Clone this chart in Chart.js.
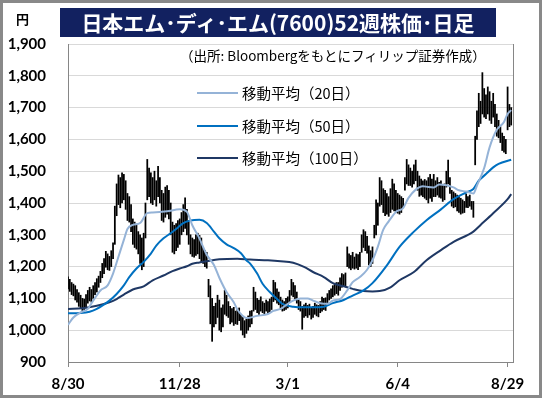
<!DOCTYPE html>
<html><head><meta charset="utf-8">
<script src="https://cdn.jsdelivr.net/npm/chart.js@4.4.1/dist/chart.umd.min.js"></script>
<style>
html,body{margin:0;padding:0;background:#fff;}
#wrap{position:relative;width:542px;height:398px;overflow:hidden;background:#fff;}
#c{position:absolute;left:0;top:0;}
#frame{position:absolute;left:0;top:0;width:542px;height:398px;box-sizing:border-box;border:3px solid #898989;pointer-events:none;}
.t{position:absolute;white-space:nowrap;font-family:"Noto Sans CJK JP",sans-serif;color:#000;}
#title{left:60px;top:8px;width:436px;height:29px;background:#122160;color:#fff;font-weight:700;font-size:21px;line-height:29px;text-align:center;}
#yen{left:16px;top:9px;font-size:13px;font-weight:700;line-height:20px;}
#src{left:180px;top:45px;font-size:13.5px;line-height:20px;}
.lg{position:absolute;left:197px;width:41px;height:2px;}
.lt{left:242px;font-size:14.5px;line-height:20px;}
</style>
</head>
<body>
<div id="wrap">
<canvas id="c" width="542" height="398"></canvas>
<div class="t" id="yen">円</div>
<div class="t" id="title">日本エム･ディ･エム(7600)52週株価･日足</div>
<div class="t" id="src">（出所: Bloombergをもとにフィリップ証券作成）</div>
<div class="lg" style="top:92px;background:#95B3D7"></div>
<div class="t lt" style="top:83px">移動平均（20日）</div>
<div class="lg" style="top:125px;background:#0070C0"></div>
<div class="t lt" style="top:116px">移動平均（50日）</div>
<div class="lg" style="top:157px;background:#1F3864"></div>
<div class="t lt" style="top:148px">移動平均（100日）</div>
<div id="frame"></div>
</div>
<script>
const tickDays = [0, 62, 122, 183, 244];
const tickLabels = ['8/30', '11/28', '3/1', '6/4', '8/29'];

const dayHigh = [
1168,1160,1150,1145,1140,1128,1118,1110,1100,1098,
1112,1125,1135,1128,1140,1150,1162,1170,1185,1210,
1225,1248,1240,1232,1250,1275,1390,1460,1488,1480,
1495,1490,1470,1430,1420,1395,1350,1340,1330,1310,
1300,1290,1305,1400,1537,1510,1495,1480,1500,1470,
1515,1480,1440,1430,1450,1455,1440,1400,1340,1330,
1335,1345,1350,1370,1395,1416,1380,1340,1300,1290,
1285,1300,1305,1298,1290,1260,1250,1245,1160,1140,
1100,1075,1085,1110,1095,1070,1080,1126,1110,1090,
1075,1068,1072,1060,1065,1070,1050,1040,1030,1035,
1045,1060,1062,1135,1120,1100,1095,1105,1090,1085,
1095,1090,1098,1104,1157,1150,1130,1120,1104,1095,
1090,1100,1105,1125,1160,1150,1140,1120,1095,1090,
1075,1080,1085,1078,1082,1070,1075,1085,1080,1078,
1090,1104,1100,1102,1115,1125,1130,1140,1145,1150,
1150,1165,1178,1175,1180,1262,1240,1235,1245,1230,
1240,1238,1245,1300,1316,1310,1295,1265,1250,1262,
1330,1410,1400,1480,1470,1445,1440,1430,1420,1445,
1475,1460,1440,1430,1425,1420,1415,1480,1537,1520,
1510,1500,1520,1535,1500,1485,1475,1470,1474,1470,
1480,1490,1475,1490,1470,1480,1465,1470,1455,1460,
1500,1535,1480,1440,1435,1430,1425,1420,1415,1410,
1405,1428,1420,1425,1405,1405,1610,1690,1745,1720,
1810,1760,1740,1765,1750,1720,1745,1710,1680,1660,
1640,1620,1610,1600,1765,1710,1700];

const dayLow = [
1130,1122,1112,1108,1095,1088,1075,1068,1060,1065,
1070,1085,1092,1088,1100,1112,1120,1135,1150,1165,
1178,1198,1190,1188,1200,1225,1270,1360,1395,1385,
1400,1410,1380,1345,1340,1310,1270,1260,1255,1240,
1210,1190,1200,1290,1410,1420,1400,1395,1410,1390,
1420,1400,1345,1340,1355,1365,1350,1300,1245,1240,
1250,1260,1270,1300,1310,1320,1300,1270,1240,1232,
1230,1235,1240,1225,1215,1210,1200,1195,1105,1020,
965,1010,1020,1040,1000,995,1010,1050,1045,1040,
1020,1025,1015,1020,1018,1030,1000,985,977,990,
1000,1010,1020,1060,1065,1055,1050,1060,1055,1050,
1060,1052,1058,1065,1090,1095,1085,1080,1065,1060,
1062,1065,1070,1090,1110,1105,1095,1085,1065,1060,
1003,1040,1045,1040,1048,1035,1040,1050,1045,1042,
1055,1060,1065,1062,1085,1095,1100,1105,1110,1115,
1110,1125,1135,1138,1140,1200,1195,1190,1195,1192,
1195,1190,1200,1245,1260,1250,1242,1205,1200,1210,
1290,1300,1330,1390,1395,1370,1360,1365,1358,1370,
1380,1375,1370,1368,1365,1370,1385,1440,1460,1455,
1455,1450,1460,1470,1440,1421,1425,1420,1415,1410,
1400,1415,1405,1420,1420,1425,1418,1415,1405,1410,
1450,1460,1430,1390,1385,1388,1375,1370,1365,1368,
1370,1386,1385,1390,1380,1355,1520,1600,1640,1650,
1680,1670,1665,1680,1660,1650,1670,1640,1610,1605,
1590,1565,1560,1555,1630,1640,1645];

const ma20Days = [0,3,7,11,14,18,22,25,28,31,33,36,40,44,47,55,62,66,69,73,75,77,81,84,88,92,94,97,99,105,111,114,118,122,125,129,133,136,140,144,147,151,155,158,162,166,169,172,175,178,182,186,189,193,197,200,203,206,210,214,217,221,225,227,231,234,238,242,244,246];
const ma20 = [1017,1040,1056,1067,1093,1125,1141,1178,1231,1284,1318,1331,1337,1368,1370,1374,1380,1372,1330,1288,1262,1237,1205,1165,1120,1088,1065,1045,1038,1045,1051,1061,1067,1083,1093,1100,1100,1093,1085,1083,1093,1098,1125,1151,1167,1190,1220,1263,1316,1342,1372,1384,1416,1442,1453,1450,1449,1458,1456,1449,1440,1436,1430,1455,1510,1575,1630,1655,1680,1692];

const ma50Days = [0,7,12,16,19,23,27,31,34,38,42,46,49,53,57,61,64,68,73,77,81,84,88,92,96,99,101,105,108,112,116,119,125,131,136,142,147,153,158,164,169,177,184,192,199,207,214,221,225,228,232,236,239,246];
const ma50 = [1053,1054,1058,1067,1077,1093,1114,1141,1167,1194,1215,1241,1266,1289,1305,1323,1337,1345,1347,1337,1310,1289,1270,1258,1242,1220,1210,1178,1146,1120,1098,1083,1074,1072,1072,1074,1085,1095,1109,1125,1148,1204,1262,1310,1346,1380,1412,1433,1444,1470,1491,1512,1523,1536];

const ma100Days = [0,8,16,23,27,31,36,42,47,53,58,62,66,69,73,77,84,94,101,111,118,125,131,136,142,147,153,158,164,169,173,179,184,192,199,207,214,222,225,229,236,244,246];
const ma100 = [1067,1069,1077,1088,1098,1112,1128,1138,1157,1172,1186,1194,1201,1209,1213,1217,1223,1225,1222,1220,1217,1212,1199,1183,1167,1148,1138,1130,1123,1122,1123,1135,1157,1183,1220,1252,1278,1300,1310,1331,1368,1412,1428];

const candles = dayHigh.map((h, i) => ({x: i, y: [dayLow[i], h]}));
const pts = (d, v) => d.map((x, i) => ({x: x, y: v[i]}));

const tickFont = {family: 'Lato', weight: 'bold', size: 15};
const fmt = v => String(v).replace(/\B(?=(\d{3})+(?!\d))/g, ',');

new Chart(document.getElementById('c'), {
  type: 'line',
  data: {
    datasets: [
      {type: 'bar', label: '株価', data: candles, backgroundColor: '#000', borderWidth: 0,
       barThickness: 1.1, grouped: false, order: 5},
      {type: 'line', label: '移動平均（100日）', data: pts(ma100Days, ma100), borderColor: '#1F3864',
       borderWidth: 2, pointRadius: 0, cubicInterpolationMode: 'monotone', order: 3},
      {type: 'line', label: '移動平均（50日）', data: pts(ma50Days, ma50), borderColor: '#0070C0',
       borderWidth: 2, pointRadius: 0, cubicInterpolationMode: 'monotone', order: 2},
      {type: 'line', label: '移動平均（20日）', data: pts(ma20Days, ma20), borderColor: '#95B3D7',
       borderWidth: 2, pointRadius: 0, cubicInterpolationMode: 'monotone', order: 1}
    ]
  },
  options: {
    responsive: false,
    animation: false,
    events: [],
    plugins: {legend: {display: false}, tooltip: {enabled: false}},
    layout: {padding: {left: 0, top: 44, right: 29, bottom: 0}},
    scales: {
      x: {
        type: 'linear', min: 0, max: 247, offset: false,
        afterBuildTicks: s => { s.ticks = tickDays.map(v => ({value: v})); },
        afterFit: s => { s.height = 36; },
        ticks: {autoSkip: false, maxRotation: 0, font: tickFont, color: '#000', padding: 8,
                callback: v => tickLabels[tickDays.indexOf(v)]},
        grid: {offset: false, drawOnChartArea: false, drawTicks: true, tickLength: 5, color: '#868686'},
        border: {color: '#868686'}
      },
      y: {
        min: 900, max: 1900, beginAtZero: false,
        afterFit: s => { s.width = 68; },
        ticks: {stepSize: 100, font: tickFont, color: '#000', padding: 22, callback: v => fmt(v)},
        grid: {color: '#D9D9D9', drawTicks: false},
        border: {color: '#868686'}
      },
      y2: {
        position: 'right', min: 0, max: 1,
        afterFit: s => { s.width = 0; },
        ticks: {display: false},
        grid: {drawOnChartArea: false, drawTicks: false},
        border: {color: '#868686'}
      }
    }
  }
});
</script>
</body></html>
